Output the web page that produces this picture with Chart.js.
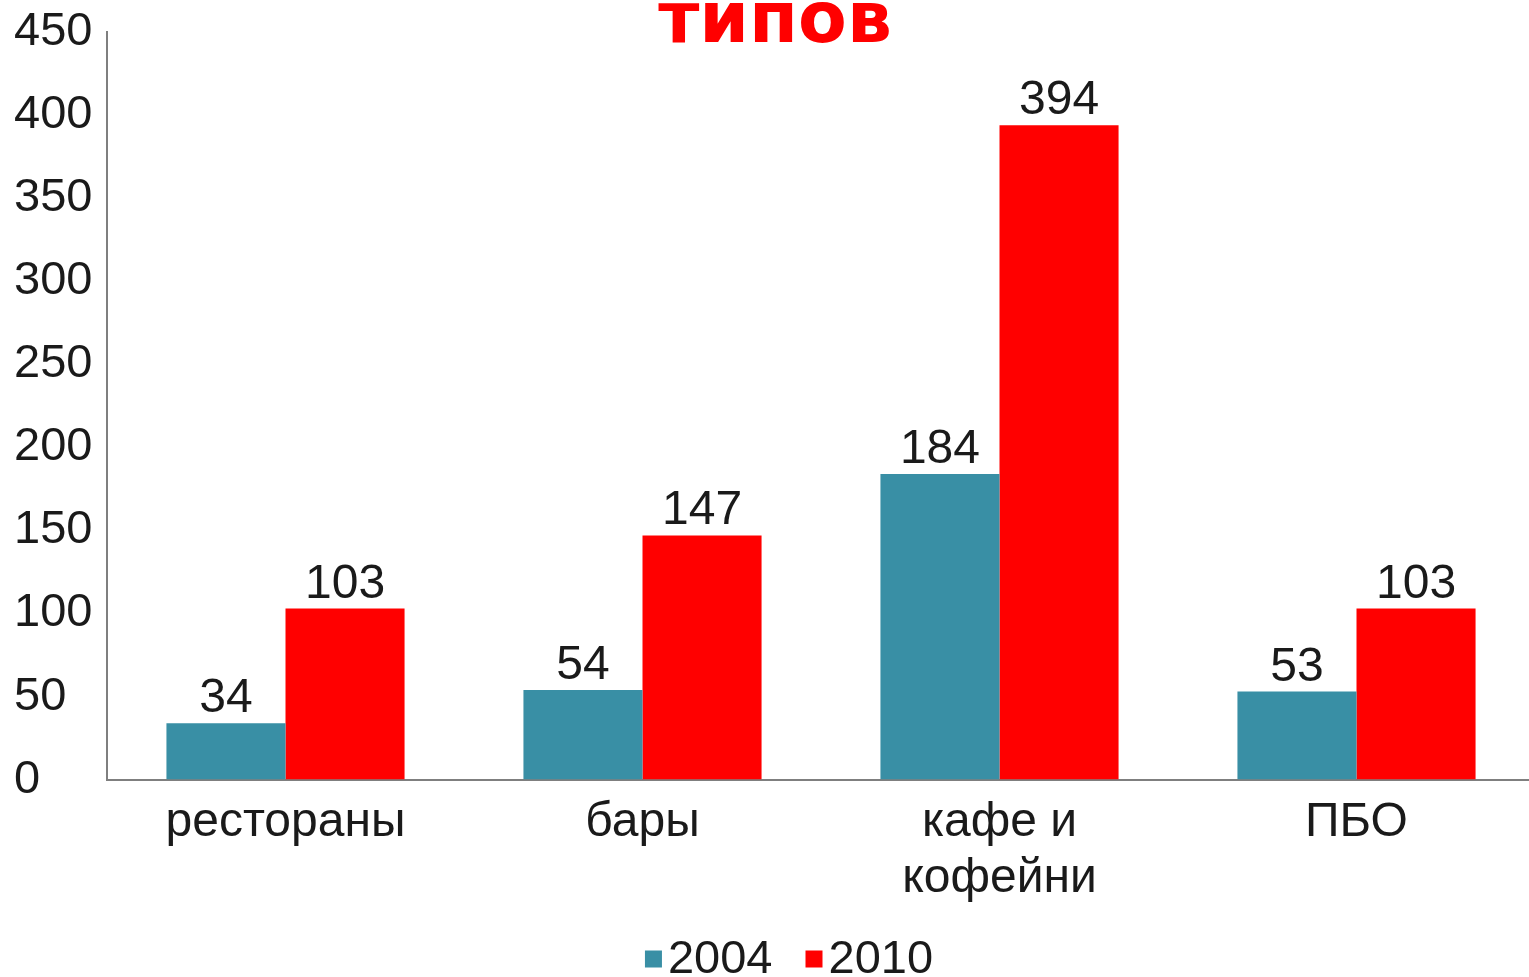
<!DOCTYPE html>
<html>
<head>
<meta charset="utf-8">
<script src="https://cdn.jsdelivr.net/npm/chart.js@4/dist/chart.umd.min.js"></script>
<style>
html,body{margin:0;padding:0;background:#fff;overflow:hidden;}
#wrap{width:1535px;height:977px;position:relative;}
</style>
</head>
<body>
<div id="wrap"><canvas id="c" width="1535" height="977"></canvas></div>
<script>
const categories = [['рестораны'], ['бары'], ['кафе и', 'кофейни'], ['ПБО']];
const seriesNames = ['2004', '2010'];
const values2004 = [34, 54, 184, 53];
const values2010 = [103, 147, 394, 103];
const titleText = 'типов';
const yMax = 450;
const yStep = 50;

const COL_TEAL = '#398fa5';
const COL_RED = '#ff0000';
const TEXT_COL = '#1a1a1a';
const FONT = '"Liberation Sans", Arial, sans-serif';

const titlePlugin = {
  id: 'topTitle',
  afterDraw(chart) {
    const ctx = chart.ctx;
    ctx.save();
    ctx.font = 'bold 71px "DejaVu Sans", Verdana, sans-serif';
    ctx.fillStyle = COL_RED;
    ctx.textAlign = 'center';
    ctx.textBaseline = 'alphabetic';
    ctx.fillText(titleText, 775, 42);
    ctx.restore();
  }
};

const valueLabels = {
  id: 'valueLabels',
  afterDatasetsDraw(chart) {
    const ctx = chart.ctx;
    ctx.save();
    ctx.font = '48px ' + FONT;
    ctx.fillStyle = TEXT_COL;
    ctx.textAlign = 'center';
    ctx.textBaseline = 'alphabetic';
    chart.data.datasets.forEach((ds, di) => {
      const meta = chart.getDatasetMeta(di);
      meta.data.forEach((bar, i) => {
        ctx.fillText(String(ds.data[i]), bar.x, bar.y - 11);
      });
    });
    ctx.restore();
  }
};

const customLegend = {
  id: 'customLegend',
  afterDraw(chart) {
    const ctx = chart.ctx;
    ctx.save();
    ctx.font = '47px ' + FONT;
    ctx.textBaseline = 'middle';
    ctx.textAlign = 'left';
    const box = 17, gap = 6, itemGap = 33;
    const items = chart.data.datasets.map(d => ({label: d.label, color: d.backgroundColor}));
    let total = 0;
    items.forEach((it, i) => {
      it.w = box + gap + ctx.measureText(it.label).width;
      total += it.w + (i ? itemGap : 0);
    });
    let x = 789 - total / 2;
    const yc = 959;
    items.forEach(it => {
      ctx.fillStyle = it.color;
      ctx.fillRect(x, yc - box / 2, box, box);
      ctx.fillStyle = TEXT_COL;
      ctx.fillText(it.label, x + box + gap, yc + 1);
      x += it.w + itemGap;
    });
    ctx.restore();
  }
};

new Chart(document.getElementById('c'), {
  type: 'bar',
  data: {
    labels: categories,
    datasets: [
      {label: seriesNames[0], data: values2004, backgroundColor: COL_TEAL, borderWidth: 0},
      {label: seriesNames[1], data: values2010, backgroundColor: COL_RED, borderWidth: 0}
    ]
  },
  options: {
    responsive: false,
    animation: false,
    devicePixelRatio: 1,
    layout: {padding: {left: 14, right: 0, top: 0, bottom: 55}},
    plugins: {legend: {display: false}, title: {display: false}, tooltip: {enabled: false}},
    datasets: {bar: {categoryPercentage: 0.667, barPercentage: 1}},
    scales: {
      x: {
        grid: {display: false, drawTicks: false},
        border: {display: true, color: '#7f7f7f', width: 2},
        ticks: {font: {size: 48, family: FONT, lineHeight: 1.15}, color: TEXT_COL, padding: 16, maxRotation: 0, autoSkip: false}
      },
      y: {
        min: 0, max: yMax,
        afterFit(scale) { scale.width = 93; },
        grid: {display: false, drawTicks: false},
        border: {display: true, color: '#7f7f7f', width: 2},
        ticks: {stepSize: yStep, font: {size: 47, family: FONT}, color: TEXT_COL, crossAlign: 'far', padding: 4}
      }
    }
  },
  plugins: [titlePlugin, valueLabels, customLegend]
});
</script>
</body>
</html>
